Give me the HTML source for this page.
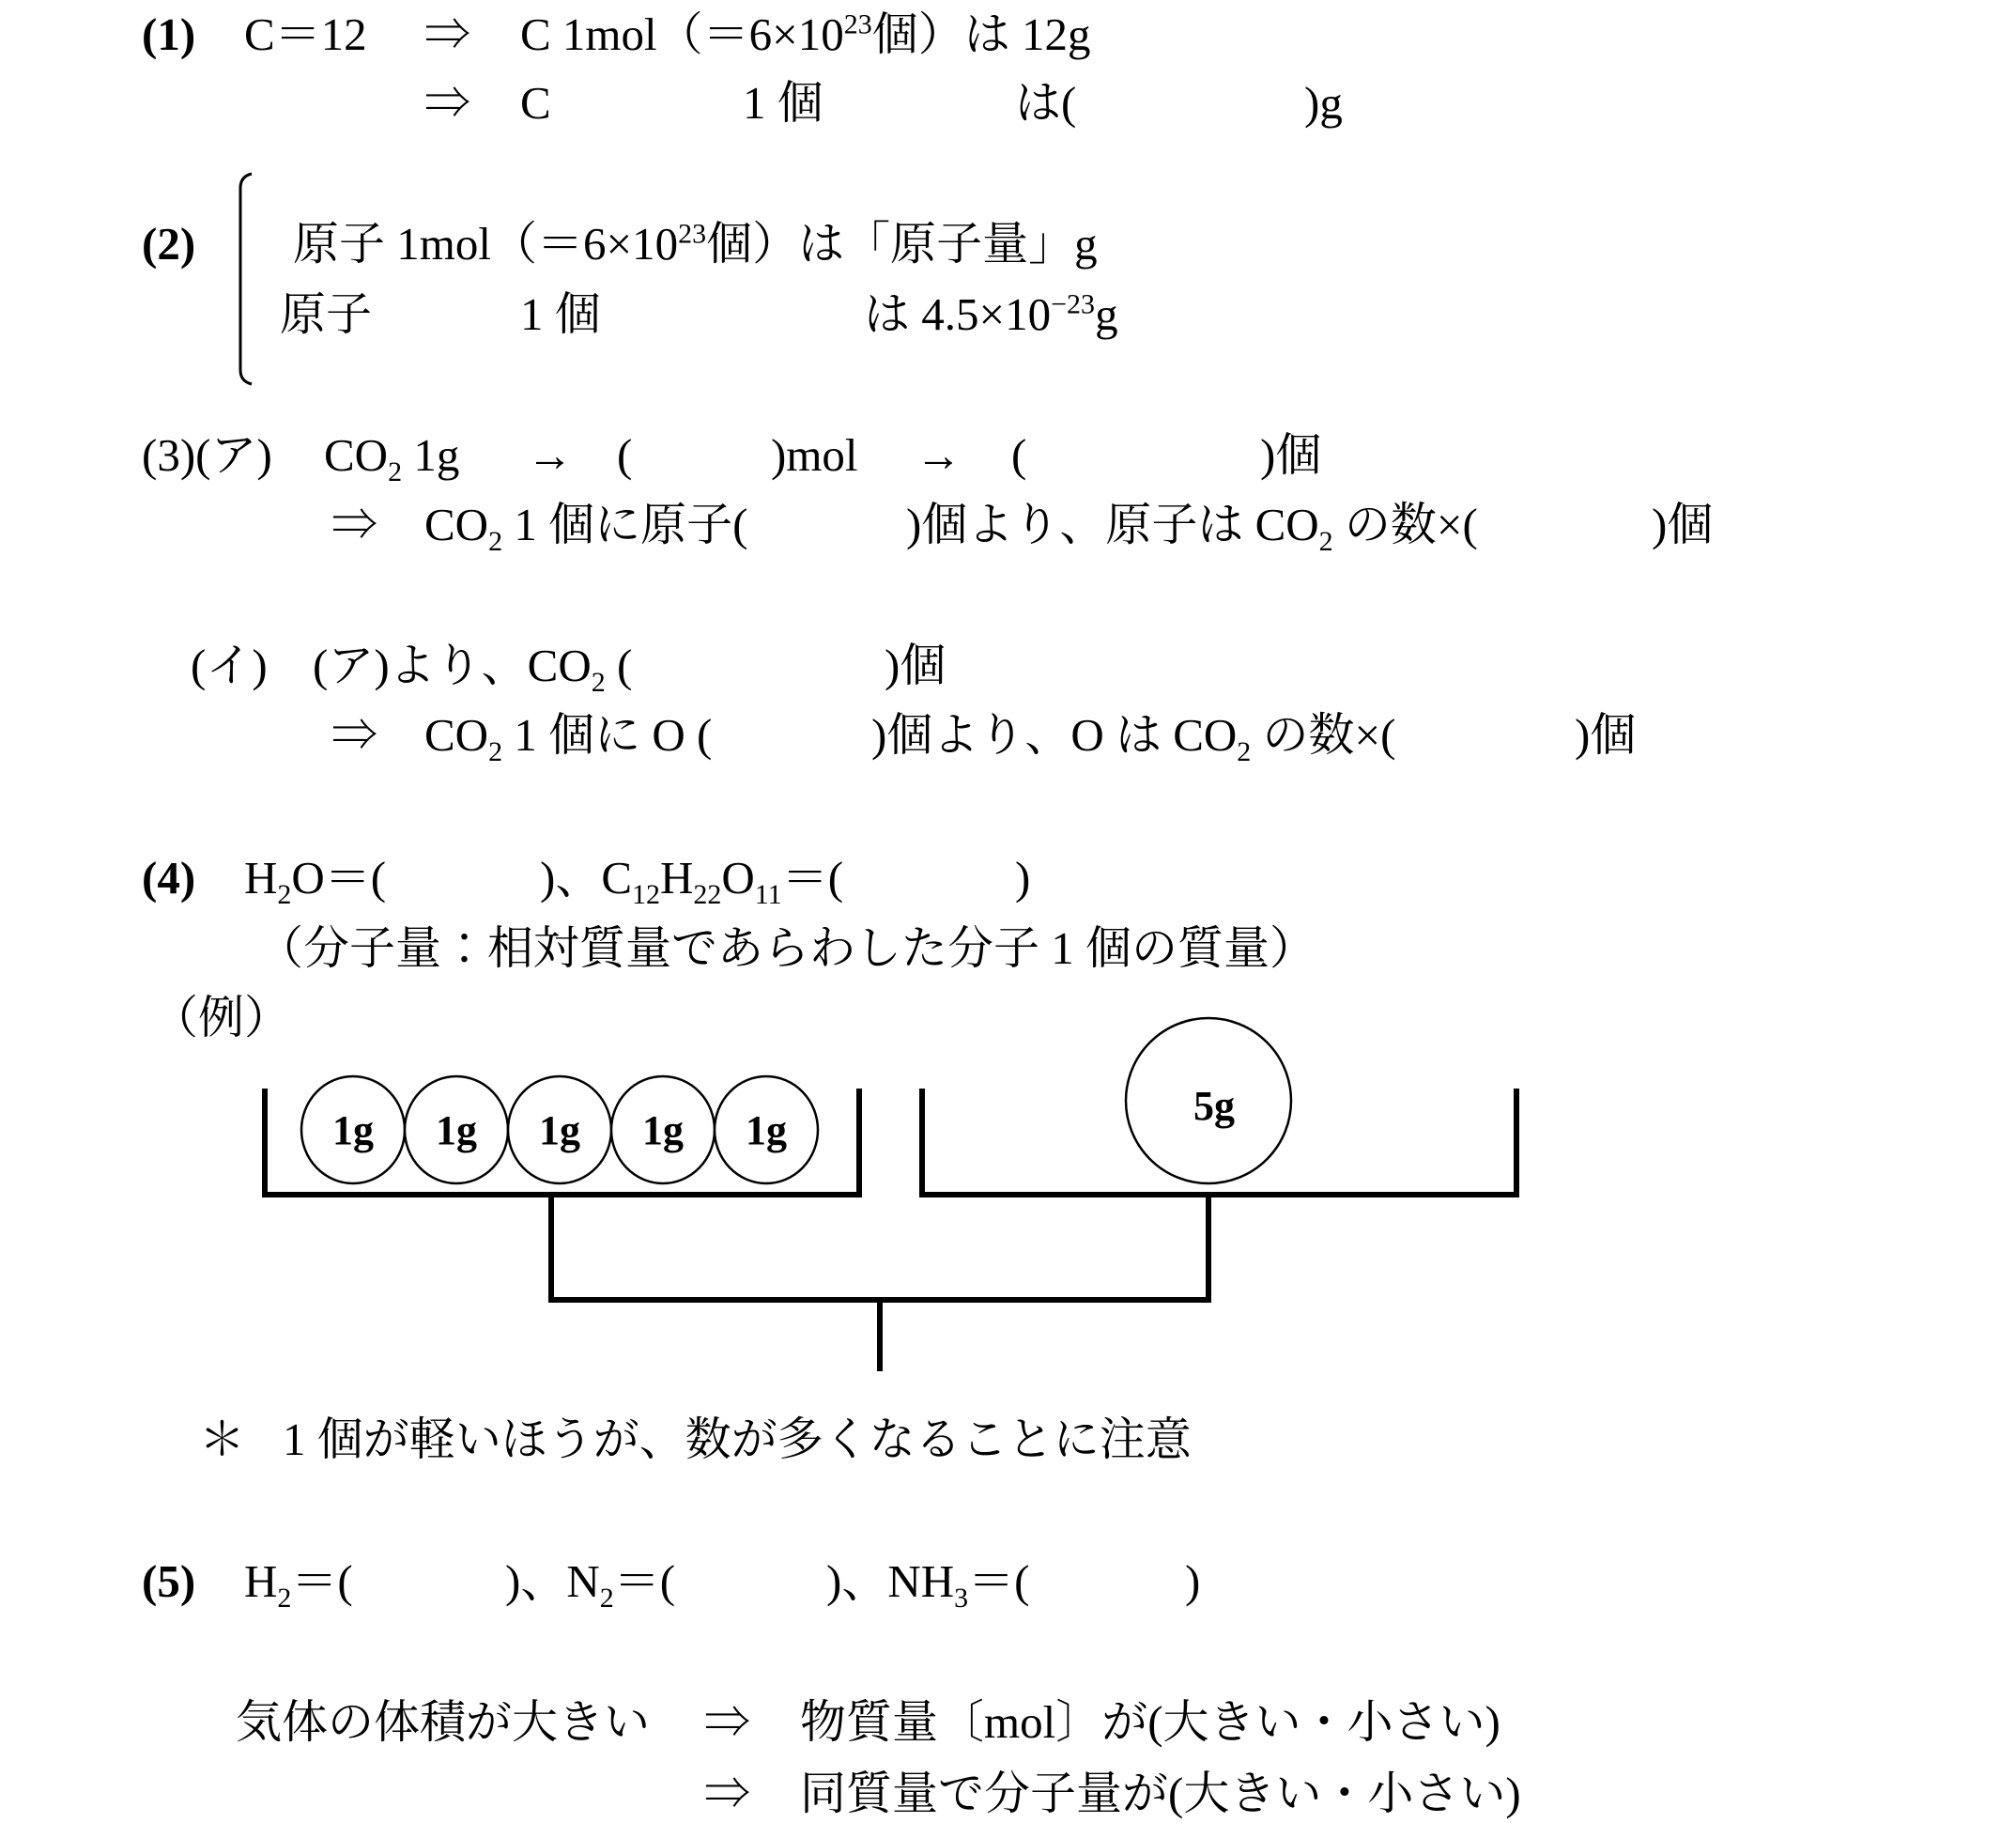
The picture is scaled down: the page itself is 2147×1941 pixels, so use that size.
<!DOCTYPE html>
<html><head><meta charset="utf-8">
<style>
html,body{margin:0;padding:0;background:#fff;}
body{width:2147px;height:1941px;position:relative;overflow:hidden;font-family:"Liberation Serif","Noto Serif CJK JP","Noto Serif CJK SC",serif;font-size:49px;color:#000;}
.t{position:absolute;line-height:50px;white-space:pre;}
.b{font-weight:bold;}
sub,sup{font-size:30px;line-height:0;}
svg{position:absolute;left:0;top:0;}
</style></head><body>
<svg width="2147" height="1941">
<path d="M268 185 Q256 188 256 200 L256 394 Q256 406 268 409" fill="none" stroke="#000" stroke-width="3"/>
<g stroke="#000" stroke-width="6" fill="none">
<polyline points="282,1159 282,1272 915,1272 915,1159"/>
<polyline points="982,1159 982,1272 1615,1272 1615,1159"/>
<polyline points="587,1272 587,1384 1287,1384 1287,1272"/>
<line x1="937" y1="1384" x2="937" y2="1460"/>
</g>
<g stroke="#000" stroke-width="2.5" fill="#fff">
<ellipse cx="376" cy="1203" rx="55" ry="57"/>
<ellipse cx="486" cy="1203" rx="55" ry="57"/>
<ellipse cx="596" cy="1203" rx="55" ry="57"/>
<ellipse cx="706" cy="1203" rx="55" ry="57"/>
<ellipse cx="816" cy="1203" rx="55" ry="57"/>
<circle cx="1287" cy="1172" r="88"/>
</g>
<g font-family="Liberation Serif,serif" font-size="44" font-weight="bold" text-anchor="middle">
<text x="376" y="1218">1g</text><text x="486" y="1218">1g</text><text x="596" y="1218">1g</text><text x="706" y="1218">1g</text><text x="816" y="1218">1g</text>
<text x="1293" y="1192">5g</text>
</g>
</svg>

<div class="t b" style="left:151px;top:12px">(1)</div>
<div class="t" style="left:260px;top:12px">C＝12</div>
<div class="t" style="left:452px;top:12px">⇒</div>
<div class="t" style="left:554px;top:12px">C 1mol（＝6×10<sup>23</sup>個）は 12g</div>
<div class="t" style="left:452px;top:85px">⇒</div>
<div class="t" style="left:554px;top:85px">C</div>
<div class="t" style="left:791px;top:85px">1 個</div>
<div class="t" style="left:1081px;top:85px">は(</div>
<div class="t" style="left:1389px;top:85px">)g</div>

<div class="t b" style="left:151px;top:235px">(2)</div>
<div class="t" style="left:312px;top:235px">原子 1mol（＝6×10<sup>23</sup>個）は「原子量」g</div>
<div class="t" style="left:298px;top:310px">原子</div>
<div class="t" style="left:554px;top:310px">1 個</div>
<div class="t" style="left:920px;top:310px">は 4.5×10<sup>−23</sup>g</div>

<div class="t" style="left:151px;top:460px">(3)(ア)</div>
<div class="t" style="left:345px;top:460px">CO<sub>2</sub> 1g</div>
<div class="t" style="left:561px;top:460px">→</div>
<div class="t" style="left:657px;top:460px">(</div>
<div class="t" style="left:821px;top:460px">)mol</div>
<div class="t" style="left:975px;top:460px">→</div>
<div class="t" style="left:1077px;top:460px">(</div>
<div class="t" style="left:1342px;top:460px">)個</div>
<div class="t" style="left:353px;top:534px">⇒</div>
<div class="t" style="left:452px;top:534px">CO<sub>2</sub> 1 個に原子(</div>
<div class="t" style="left:965px;top:534px">)個より、原子は CO<sub>2</sub> の数×(</div>
<div class="t" style="left:1759px;top:534px">)個</div>

<div class="t" style="left:203px;top:684px">(イ)</div>
<div class="t" style="left:333px;top:684px">(ア)より、CO<sub>2</sub> (</div>
<div class="t" style="left:942px;top:684px">)個</div>
<div class="t" style="left:353px;top:758px">⇒</div>
<div class="t" style="left:452px;top:758px">CO<sub>2</sub> 1 個に O (</div>
<div class="t" style="left:928px;top:758px">)個より、O は CO<sub>2</sub> の数×(</div>
<div class="t" style="left:1677px;top:758px">)個</div>

<div class="t b" style="left:151px;top:910px">(4)</div>
<div class="t" style="left:260px;top:910px">H<sub>2</sub>O＝(</div>
<div class="t" style="left:575px;top:910px">)、C<sub>12</sub>H<sub>22</sub>O<sub>11</sub>＝(</div>
<div class="t" style="left:1081px;top:910px">)</div>
<div class="t" style="left:274px;top:985px">（分子量：相対質量であらわした分子 1 個の質量）</div>
<div class="t" style="left:162px;top:1059px">（例）</div>

<div class="t" style="left:212px;top:1508px">＊</div>
<div class="t" style="left:301px;top:1508px">1 個が軽いほうが、数が多くなることに注意</div>

<div class="t b" style="left:151px;top:1659px">(5)</div>
<div class="t" style="left:260px;top:1659px">H<sub>2</sub>＝(</div>
<div class="t" style="left:538px;top:1659px">)、N<sub>2</sub>＝(</div>
<div class="t" style="left:880px;top:1659px">)、NH<sub>3</sub>＝(</div>
<div class="t" style="left:1262px;top:1659px">)</div>

<div class="t" style="left:251px;top:1809px">気体の体積が大きい</div>
<div class="t" style="left:750px;top:1809px">⇒</div>
<div class="t" style="left:852px;top:1809px">物質量〔mol〕が(大きい・小さい)</div>
<div class="t" style="left:750px;top:1885px">⇒</div>
<div class="t" style="left:852px;top:1885px">同質量で分子量が(大きい・小さい)</div>
</body></html>
